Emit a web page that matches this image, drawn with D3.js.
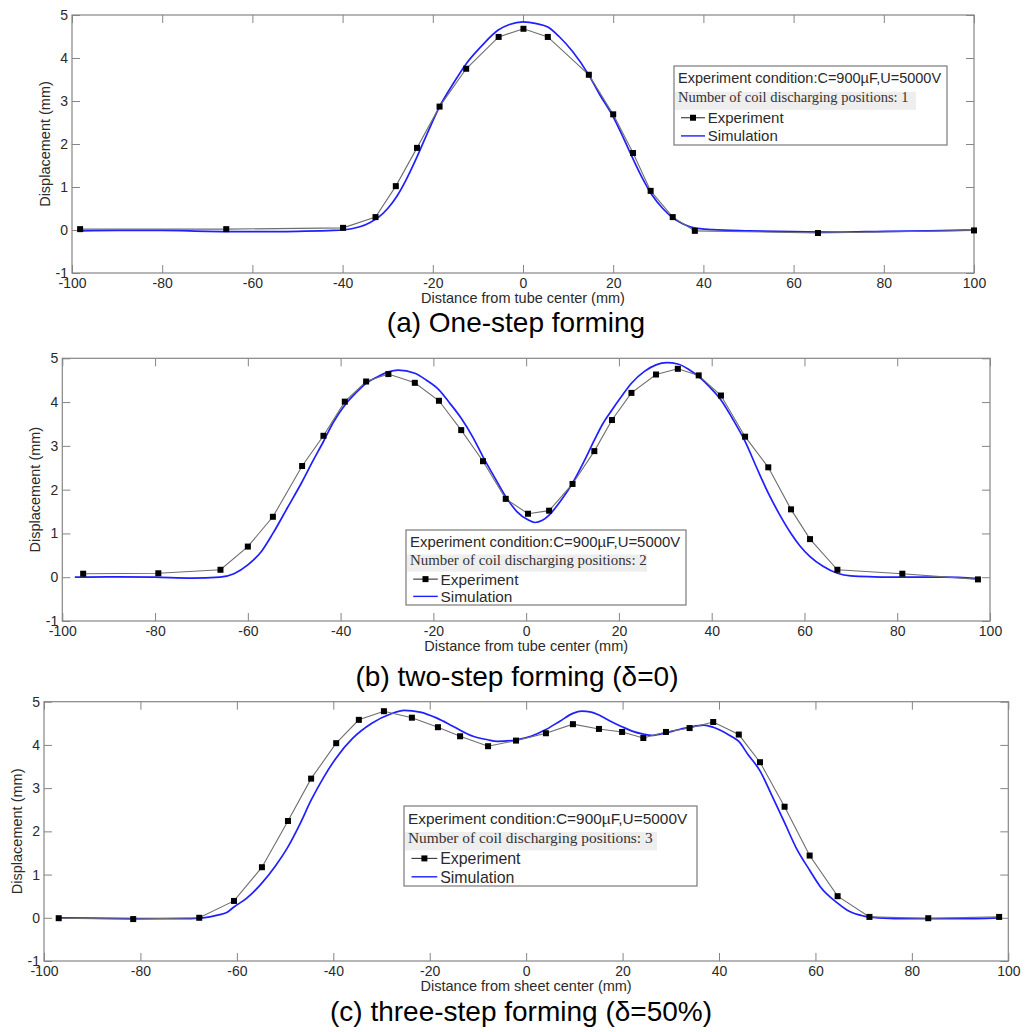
<!DOCTYPE html>
<html>
<head>
<meta charset="utf-8">
<script src="https://cdn.jsdelivr.net/npm/d3@7"></script>
<style>
  html, body { margin: 0; padding: 0; background: #fff; }
  svg { display: block; }
</style>
</head>
<body>
<svg id="chart" width="1025" height="1032"></svg>
<script>
// ---------- DATA ----------
const xTicks = [-100, -80, -60, -40, -20, 0, 20, 40, 60, 80, 100];
const yTicks = [-1, 0, 1, 2, 3, 4, 5];

const captions = ["(a) One-step forming", "(b) two-step forming (δ=0)", "(c) three-step forming (δ=50%)"];
const xLabels = ["Distance from tube center (mm)", "Distance from tube center (mm)", "Distance from sheet center (mm)"];
const yLabel = "Displacement (mm)";
const legendTitle = "Experiment condition:C=900\u00b5F,U=5000V";
const legendSubtitles = ["Number of coil discharging positions: 1", "Number of coil discharging positions: 2", "Number of coil discharging positions: 3"];
const seriesNames = ["Experiment", "Simulation"];

// Panel (a)
const expAx = [-98.2, -65.8, -39.9, -32.7, -28.2, -23.5, -18.5, -12.6, -5.4, 0.1, 5.5, 14.6, 20.0, 24.4, 28.3, 33.2, 38.1, 65.4, 100];
const expAy = [0.02, 0.02, 0.05, 0.30, 1.02, 1.91, 2.87, 3.75, 4.49, 4.68, 4.49, 3.61, 2.69, 1.79, 0.91, 0.30, -0.02, -0.07, -0.01];
const simAx = [-98, -90, -80, -70, -60, -50, -42, -38, -36, -34, -32, -30, -28, -26, -23.5, -21, -18.5, -15.5, -12.5, -9, -5.5, -3, 0, 3, 5.5, 8, 11, 14.5, 17, 20, 22, 24.5, 26.5, 28.5, 31, 33, 35.5, 38, 42, 50, 60, 70, 80, 90, 100];
const simAy = [-0.02, -0.01, -0.01, -0.03, -0.04, -0.03, -0.01, 0.03, 0.08, 0.17, 0.30, 0.50, 0.78, 1.15, 1.70, 2.30, 2.87, 3.40, 3.88, 4.30, 4.65, 4.78, 4.84, 4.80, 4.72, 4.50, 4.15, 3.62, 3.15, 2.63, 2.20, 1.63, 1.20, 0.83, 0.50, 0.30, 0.14, 0.05, 0.01, -0.02, -0.04, -0.05, -0.03, -0.02, 0.0];

// Panel (b)
const expBx = [-95.5, -79.3, -65.9, -60.0, -54.6, -48.3, -43.7, -39.1, -34.5, -29.7, -24.0, -18.8, -14.0, -9.3, -4.4, 0.4, 4.95, 10.0, 14.7, 18.5, 22.7, 28.0, 32.7, 37.2, 42.0, 47.2, 52.2, 57.1, 61.2, 67.1, 81.1, 97.4];
const expBy = [0.08, 0.09, 0.17, 0.70, 1.38, 2.54, 3.23, 4.01, 4.47, 4.64, 4.44, 4.03, 3.36, 2.65, 1.79, 1.45, 1.52, 2.13, 2.88, 3.59, 4.21, 4.63, 4.76, 4.61, 4.15, 3.21, 2.51, 1.55, 0.87, 0.17, 0.08, -0.05];
const simBx = [-97.3, -90, -80, -72, -66, -63, -60, -57, -54.6, -51.5, -48.3, -46, -43.7, -41.5, -39.1, -36.8, -34.5, -32, -29.7, -27.6, -24, -21.5, -18.8, -16.5, -14, -11.5, -9.3, -6.8, -4.4, -2, 0.4, 1.9, 3.5, 4.95, 7.5, 10, 12.5, 14.7, 16.5, 18.5, 20.5, 22.7, 25.5, 28, 30.3, 32.7, 35, 37.2, 39.5, 42, 44.5, 47.2, 49.7, 52.2, 54.7, 57.1, 59, 61.2, 64, 67.1, 70, 75, 80, 90, 97.4];
const simBy = [0.0, 0.01, 0.0, -0.02, 0.0, 0.08, 0.28, 0.60, 1.00, 1.58, 2.18, 2.65, 3.10, 3.55, 3.93, 4.20, 4.43, 4.58, 4.69, 4.73, 4.66, 4.50, 4.28, 3.98, 3.63, 3.20, 2.75, 2.28, 1.84, 1.50, 1.31, 1.25, 1.30, 1.42, 1.75, 2.15, 2.65, 3.13, 3.50, 3.82, 4.12, 4.43, 4.70, 4.85, 4.90, 4.87, 4.75, 4.58, 4.35, 4.05, 3.62, 3.10, 2.50, 1.92, 1.42, 1.00, 0.72, 0.47, 0.25, 0.09, 0.03, 0.01, 0.0, 0.0, -0.03];

// Panel (c)
const expCx = [-96.95, -81.5, -67.8, -60.6, -54.8, -49.4, -44.6, -39.4, -34.7, -29.5, -23.7, -18.3, -13.7, -7.9, -2.1, 4.1, 9.7, 15.1, 19.9, 24.3, 29.0, 33.9, 38.8, 44.1, 48.5, 53.6, 58.8, 64.6, 71.2, 83.4, 98.1];
const expCy = [-0.01, -0.03, 0.0, 0.39, 1.17, 2.24, 3.22, 4.04, 4.58, 4.78, 4.63, 4.41, 4.20, 3.97, 4.10, 4.27, 4.48, 4.37, 4.30, 4.16, 4.30, 4.39, 4.53, 4.24, 3.60, 2.57, 1.44, 0.50, 0.02, -0.01, 0.02];
const simCx = [-97, -90, -80, -72, -67, -64, -62, -60.6, -58, -55, -52, -49.4, -47, -44.6, -42, -39.4, -36, -32, -28, -25.3, -22, -18.5, -15, -11, -8, -6, -2, 1, 4, 7, 9.7, 11.5, 13.5, 15.1, 17.5, 19.9, 22, 24.3, 26, 29, 31.5, 33.9, 36.8, 38.8, 40.5, 42.5, 44.1, 46, 48.5, 51, 53.6, 56, 58.8, 61, 64.6, 67, 70, 73, 80, 90, 98];
const simCy = [0.0, -0.01, -0.02, -0.02, 0.0, 0.06, 0.13, 0.25, 0.45, 0.78, 1.20, 1.64, 2.15, 2.72, 3.25, 3.70, 4.15, 4.50, 4.72, 4.80, 4.76, 4.62, 4.42, 4.20, 4.12, 4.08, 4.12, 4.20, 4.35, 4.55, 4.73, 4.78, 4.76, 4.69, 4.55, 4.42, 4.32, 4.25, 4.22, 4.28, 4.35, 4.41, 4.46, 4.41, 4.33, 4.20, 4.08, 3.78, 3.40, 2.82, 2.20, 1.62, 1.10, 0.72, 0.34, 0.15, 0.04, 0.0, -0.02, -0.02, 0.0];

const expX = [expAx, expBx, expCx], expY = [expAy, expBy, expCy];
const simX = [simAx, simBx, simCx], simY = [simAy, simBy, simCy];

// ---------- LAYOUT ----------
const layout = [
  { left: 72,   right: 974,    top: 15,    bottom: 273, capX: 516, capY: 332,
    leg: { x: 674, y: 66,  w: 273, h: 79, fs: 14.5, band: 241 } },
  { left: 62.3, right: 990,    top: 358.3, bottom: 621, capX: 517, capY: 686,
    leg: { x: 406, y: 530, w: 280, h: 75, fs: 14.9, band: 240 } },
  { left: 44,   right: 1008.3, top: 701.7, bottom: 961, capX: 521, capY: 1021,
    leg: { x: 404, y: 806, w: 293, h: 80, fs: 15.4, band: 252 } }
];

const SANS = "'Liberation Sans', Arial, Helvetica, sans-serif";
const SERIF = "'Liberation Serif', 'Times New Roman', serif";
const AXIS_COL = "#858585";
const TEXT_COL = "#2a2a2a";
const EXP_LINE = "#6e6e6e";
const SIM_COL = "#1f1fff";

const svg = d3.select("#chart");

layout.forEach((L, i) => {
  const x = d3.scaleLinear().domain([-100, 100]).range([L.left, L.right]);
  const y = d3.scaleLinear().domain([-1, 5]).range([L.bottom, L.top]);
  const g = svg.append("g");
  const fmt = d => String(d);

  // axes (inside ticks)
  const bottomAx = g.append("g").attr("transform", `translate(0,${L.bottom})`)
    .call(d3.axisBottom(x).tickValues(xTicks).tickFormat(fmt).tickSizeInner(-8).tickSizeOuter(0).tickPadding(5));
  const topAx = g.append("g").attr("transform", `translate(0,${L.top})`)
    .call(d3.axisTop(x).tickValues(xTicks).tickFormat("").tickSizeInner(-8).tickSizeOuter(0));
  const leftAx = g.append("g").attr("transform", `translate(${L.left},0)`)
    .call(d3.axisLeft(y).tickValues(yTicks).tickFormat(fmt).tickSizeInner(-8).tickSizeOuter(0).tickPadding(4));
  const rightAx = g.append("g").attr("transform", `translate(${L.right},0)`)
    .call(d3.axisRight(y).tickValues(yTicks).tickFormat("").tickSizeInner(-8).tickSizeOuter(0));

  [bottomAx, topAx, leftAx, rightAx].forEach(a => {
    a.select(".domain").remove();
    a.selectAll(".tick line").attr("stroke", AXIS_COL);
    a.selectAll(".tick text").attr("fill", TEXT_COL)
      .style("font-family", SANS).style("font-size", "14px");
  });

  g.append("rect")
    .attr("x", L.left).attr("y", L.top)
    .attr("width", L.right - L.left).attr("height", L.bottom - L.top)
    .attr("fill", "none").attr("stroke", AXIS_COL).attr("stroke-width", 1.2);

  // axis labels
  g.append("text")
    .attr("x", (L.left + L.right) / 2).attr("y", L.bottom + 30)
    .attr("text-anchor", "middle").attr("fill", TEXT_COL)
    .style("font-family", SANS).style("font-size", "14.5px")
    .text(xLabels[i]);
  g.append("text")
    .attr("transform", `translate(${L.left - 27},${(L.top + L.bottom) / 2}) rotate(-90)`)
    .attr("text-anchor", "middle").attr("dy", "0.35em").attr("fill", TEXT_COL)
    .style("font-family", SANS).style("font-size", "14.5px")
    .text(yLabel);

  // simulation curve
  const simPts = simX[i].map((v, k) => [v, simY[i][k]]);
  g.append("path").datum(simPts)
    .attr("fill", "none").attr("stroke", SIM_COL).attr("stroke-width", 1.7)
    .attr("d", d3.line().x(d => x(d[0])).y(d => y(d[1])).curve(d3.curveMonotoneX));

  // experiment line + markers
  const expPts = expX[i].map((v, k) => [v, expY[i][k]]);
  g.append("path").datum(expPts)
    .attr("fill", "none").attr("stroke", EXP_LINE).attr("stroke-width", 1.1)
    .attr("d", d3.line().x(d => x(d[0])).y(d => y(d[1])));
  g.selectAll("rect.mk").data(expPts).enter().append("rect")
    .attr("class", "mk")
    .attr("x", d => x(d[0]) - 3).attr("y", d => y(d[1]) - 3)
    .attr("width", 6).attr("height", 6).attr("fill", "#000");

  // legend
  const lg = L.leg;
  const sx = lg.w / 273;
  const leg = g.append("g").attr("transform", `translate(${lg.x},${lg.y})`);
  leg.append("rect").attr("x", 0).attr("y", 0).attr("width", lg.w).attr("height", lg.h)
    .attr("fill", "#fff").attr("stroke", "#7a7a7a").attr("stroke-width", 1.2);
  leg.append("rect").attr("x", 1).attr("y", 0.325 * lg.h).attr("width", lg.band).attr("height", 0.23 * lg.h)
    .attr("fill", "#eeeeee");
  leg.append("text").attr("x", 4).attr("y", 0.22 * lg.h)
    .attr("fill", TEXT_COL).style("font-family", SANS).style("font-size", lg.fs + "px")
    .text(legendTitle);
  leg.append("text").attr("x", 4).attr("y", 0.46 * lg.h)
    .attr("fill", "#333").style("font-family", SERIF).style("font-size", lg.fs + "px")
    .text(legendSubtitles[i]);
  const rowY = [0.655 * lg.h, 0.885 * lg.h];
  // experiment entry
  leg.append("line").attr("x1", 7 * sx).attr("x2", 31 * sx).attr("y1", rowY[0]).attr("y2", rowY[0])
    .attr("stroke", "#333").attr("stroke-width", 1.1);
  leg.append("rect").attr("x", 19 * sx - 3).attr("y", rowY[0] - 3).attr("width", 6).attr("height", 6).attr("fill", "#000");
  leg.append("text").attr("x", 33.7 * sx).attr("y", rowY[0]).attr("dy", "0.36em")
    .attr("fill", TEXT_COL).style("font-family", SANS).style("font-size", (lg.fs + 0.5) + "px")
    .text(seriesNames[0]);
  // simulation entry
  leg.append("line").attr("x1", 7 * sx).attr("x2", 31 * sx).attr("y1", rowY[1]).attr("y2", rowY[1])
    .attr("stroke", SIM_COL).attr("stroke-width", 1.4);
  leg.append("text").attr("x", 33.7 * sx).attr("y", rowY[1]).attr("dy", "0.36em")
    .attr("fill", TEXT_COL).style("font-family", SANS).style("font-size", (lg.fs + 0.5) + "px")
    .text(seriesNames[1]);

  // caption
  svg.append("text").attr("x", L.capX).attr("y", L.capY)
    .attr("text-anchor", "middle").attr("fill", "#000")
    .style("font-family", SANS).style("font-size", "28px")
    .text(captions[i]);
});
</script>
</body>
</html>
